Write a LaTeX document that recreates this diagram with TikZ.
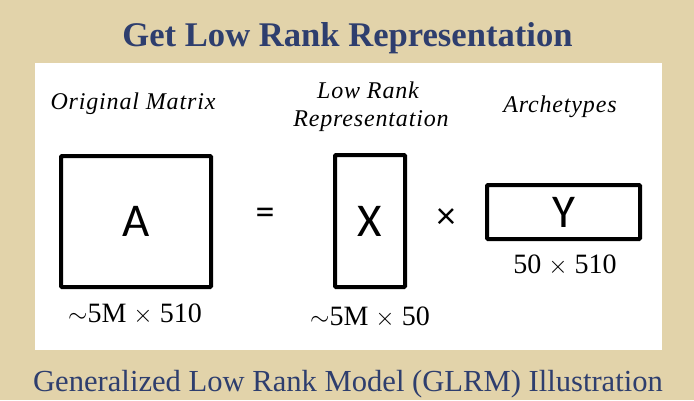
\documentclass[tikz,border=0pt]{standalone}
\usepackage{fontspec}
\setmainfont{Liberation Serif}
\newfontfamily\lettersf{Carlito}
\newfontfamily\capfont{Liberation Serif}[LetterSpace=3.5]
\usepackage{xcolor}
\usepackage{tikz}
\usetikzlibrary{positioning}

\definecolor{bgbeige}{RGB}{226,211,170}
\definecolor{titlenavy}{RGB}{46,62,110}

\begin{document}
\begin{tikzpicture}[
    x=1pt, y=-1pt,
    mat/.style={rectangle, draw, line width=4pt, rounded corners=1pt, inner sep=0pt, font=\lettersf\fontsize{47}{47}\selectfont},
    op/.style={font=\lettersf\fontsize{38}{38}\selectfont},
    dimlbl/.style={anchor=base, font=\fontsize{28}{28}\selectfont},
    caplbl/.style={anchor=base, font=\capfont\itshape\fontsize{24}{24}\selectfont},
    heading/.style={anchor=base, text=titlenavy}
]

% Background and panel
\fill[bgbeige] (0,0) rectangle (694,400);
\fill[white] (35,63) rectangle (662,350);

% Headings
\node[heading, font=\bfseries\fontsize{34.6}{34.6}\selectfont] (title) at (347.5,46) {Get Low Rank Representation};
\node[heading, font=\fontsize{30.6}{30.6}\selectfont] (caption) at (348,391) {Generalized Low Rank Model (GLRM) Illustration};

% Matrices
\node[mat, minimum width=150, minimum height=131] (A) at (136,221.5) {A};
\node[mat, minimum width=70, minimum height=132] (X) at (370,221) {X};
\node[mat, minimum width=153, minimum height=54] (Y) at (563.5,212) {Y};

% Operators
\node[op] (eq) at (265,216) {=};
\node[op] (times) at (446,219) {×};

% Captions
\node[caplbl] (orig) at (133,109) {Original Matrix};
\node[caplbl] (lowrank) at (368,98) {Low Rank};
\node[caplbl] (repr) at (371,126) {Representation};
\node[caplbl] (arch) at (560,112) {Archetypes};

% Dimensions
\node[dimlbl] (dimA) at (135,322) {$\sim$5M $\times$ 510};
\node[dimlbl] (dimX) at (370,325) {$\sim$5M $\times$ 50};
\node[dimlbl] (dimY) at (565,273) {50 $\times$ 510};

\end{tikzpicture}
\end{document}
